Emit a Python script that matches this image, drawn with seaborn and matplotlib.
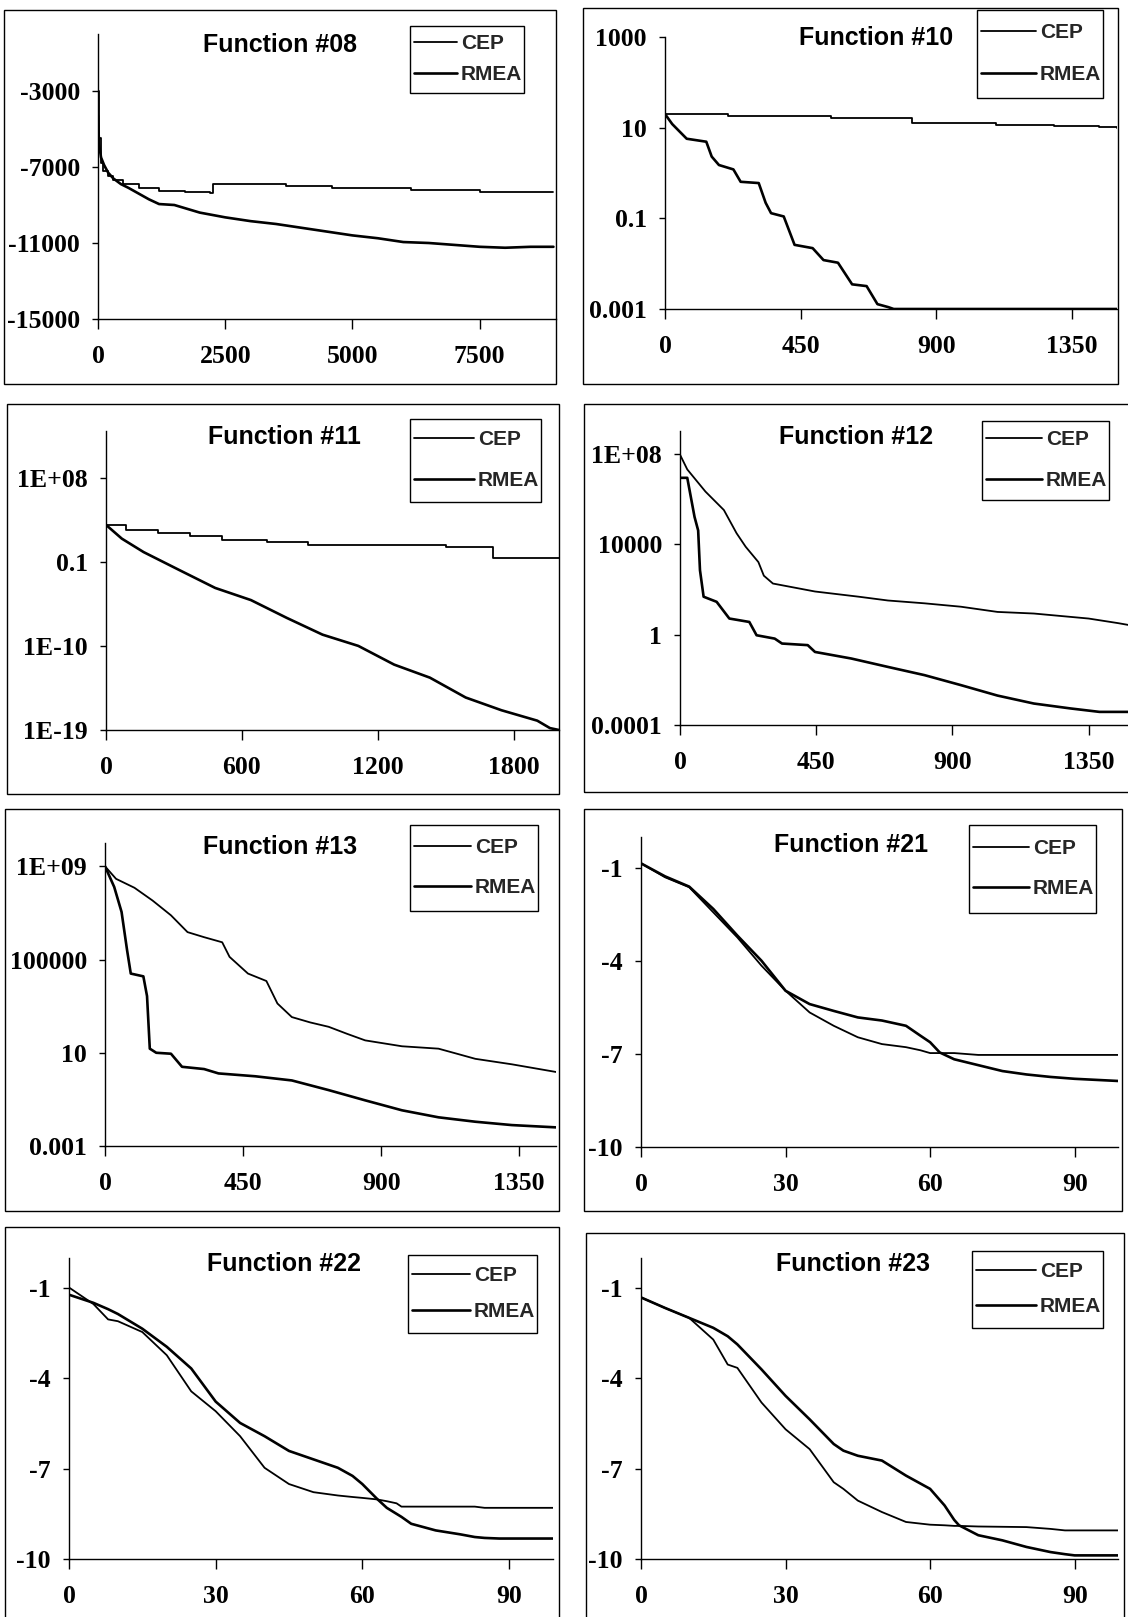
import numpy as np
import pandas as pd
import matplotlib
matplotlib.use("Agg")
import matplotlib.pyplot as plt
import seaborn as sns
from matplotlib.patches import Rectangle
from matplotlib.ticker import FixedLocator, NullLocator, FixedFormatter
from matplotlib.font_manager import FontProperties

# ---------------- data ----------------
# Function #08
f08_cep_x = [0, 20, 50, 100, 200, 300, 500, 800, 1200, 1700, 2200, 2250, 3650, 3700, 4550, 4600, 6100, 6150, 7450, 7500, 8950]
f08_cep_y = [-3000, -5500, -6800, -7200, -7500, -7700, -7900, -8100, -8250, -8300, -8350, -7900, -7900, -8000, -8000, -8100, -8100, -8200, -8200, -8300, -8300]
f08_rmea_x = [0, 20, 60, 120, 200, 300, 450, 600, 800, 1000, 1200, 1500, 2000, 2500, 3000, 3500, 4000, 4500, 5000, 5500, 6000, 6500, 7000, 7500, 8000, 8500, 8950]
f08_rmea_y = [-4300, -5800, -6500, -6900, -7300, -7600, -7900, -8100, -8400, -8700, -8950, -9000, -9400, -9650, -9850, -10000, -10200, -10400, -10600, -10750, -10950, -11000, -11100, -11200, -11250, -11200, -11200]

# Function #10
f10_cep_x = [0, 210, 550, 820, 1100, 1290, 1440, 1500]
f10_cep_y = [20, 18, 16.4, 13, 11.6, 11, 10.3, 10]
f10_rmea_x = [0, 24, 72, 137, 155, 179, 227, 251, 311, 334, 352, 394, 430, 490, 526, 574, 621, 669, 705, 741, 759, 1500]
f10_rmea_y = [20, 12, 5.7, 4.9, 2.3, 1.5, 1.2, 0.64, 0.6, 0.22, 0.13, 0.11, 0.026, 0.022, 0.012, 0.0105, 0.0035, 0.0032, 0.00128, 0.0011, 0.001, 0.001]

# Function #11
f11_cep_x = [0, 90, 230, 370, 510, 710, 890, 1500, 1710, 2000]
f11_cep_y = [9e2, 2.5e2, 1.3e2, 6e1, 2e1, 1.3e1, 7e0, 3.8e0, 2.8e-1, 2.8e-1]
f11_rmea_x = [0, 70, 166, 324, 482, 640, 798, 956, 1114, 1272, 1430, 1588, 1746, 1904, 1960, 2000]
f11_rmea_y = [9e2, 3e1, 1.1e0, 1.3e-2, 1.6e-4, 8e-6, 1e-7, 1.6e-9, 1e-10, 1e-12, 4e-14, 3e-16, 1.3e-17, 1e-18, 1.6e-19, 1e-19]

# Function #12
f12_cep_x = [0, 24, 84, 145, 187, 217, 259, 277, 307, 446, 591, 687, 808, 928, 1049, 1169, 1350, 1447, 1500]
f12_cep_y = [9e7, 2e7, 2.1e6, 3.2e5, 3e4, 7.6e3, 1.6e3, 4e2, 1.8e2, 8e1, 4.7e1, 3.2e1, 2.4e1, 1.7e1, 1e1, 8.5e0, 5.1e0, 3.2e0, 2.4e0]
f12_rmea_x = [0, 24, 48, 60, 66, 78, 121, 163, 229, 253, 313, 337, 422, 446, 566, 687, 808, 928, 1049, 1169, 1290, 1386, 1500]
f12_rmea_y = [8.5e6, 8.5e6, 1.6e5, 4e4, 7e2, 4.7e1, 2.8e1, 5.1e0, 3.6e0, 9.3e-1, 6.6e-1, 4e-1, 3.4e-1, 1.7e-1, 8.7e-2, 3.7e-2, 1.6e-2, 5.8e-3, 2e-3, 8.9e-4, 5.4e-4, 3.8e-4, 3.8e-4]

# Function #13
f13_cep_x = [0, 36, 96, 155, 215, 269, 323, 382, 406, 466, 526, 562, 609, 669, 729, 789, 848, 968, 1087, 1147, 1207, 1326, 1470]
f13_cep_y = [1e9, 2.9e8, 1.2e8, 3.4e7, 7.9e6, 1.5e6, 9.1e5, 5.5e5, 1.3e5, 2.5e4, 1.2e4, 1.3e3, 3.4e2, 2e2, 1.3e2, 6.5e1, 3.4e1, 1.9e1, 1.5e1, 9.1e0, 5.5e0, 3.2e0, 1.5e0]
f13_rmea_x = [0, 30, 54, 72, 84, 125, 137, 146, 167, 215, 251, 323, 370, 490, 609, 729, 848, 968, 1087, 1207, 1326, 1470]
f13_rmea_y = [1e9, 1.3e8, 1.1e7, 2.5e5, 2.5e4, 1.9e4, 2.7e3, 1.5e1, 1e1, 9.1e0, 2.5e0, 2e0, 1.3e0, 9.8e-1, 6.5e-1, 2.5e-1, 9.1e-2, 3.4e-2, 1.7e-2, 1.1e-2, 7.9e-3, 6.3e-3]

# Function #21
f21_x = [0, 5, 10, 15, 20, 25, 30, 35, 40, 45, 50, 55, 58, 60, 62, 65, 70, 75, 80, 85, 90, 99]
f21_cep_y = [-0.85, -1.3, -1.62, -2.43, -3.24, -4.15, -4.96, -5.66, -6.09, -6.46, -6.68, -6.78, -6.88, -6.97, -6.97, -6.97, -7.03, -7.03, -7.03, -7.03, -7.03, -7.03]
f21_rmea_y = [-0.85, -1.27, -1.6, -2.32, -3.18, -3.99, -4.96, -5.39, -5.61, -5.82, -5.92, -6.09, -6.41, -6.62, -6.95, -7.17, -7.36, -7.55, -7.66, -7.74, -7.8, -7.87]

# Function #22
f22_x = [0, 5, 8, 10, 15, 20, 25, 30, 35, 40, 45, 50, 55, 58, 60, 63, 65, 67, 68, 70, 75, 80, 83, 85, 88, 99]
f22_cep_y = [-0.98, -1.53, -2.04, -2.1, -2.46, -3.23, -4.43, -5.09, -5.92, -6.97, -7.51, -7.78, -7.89, -7.94, -7.97, -8.02, -8.08, -8.15, -8.26, -8.26, -8.26, -8.26, -8.26, -8.3, -8.3, -8.3]
f22_rmea_y = [-1.22, -1.49, -1.7, -1.86, -2.35, -2.95, -3.67, -4.77, -5.48, -5.92, -6.41, -6.69, -6.97, -7.24, -7.51, -8.0, -8.3, -8.5, -8.6, -8.83, -9.05, -9.18, -9.27, -9.3, -9.32, -9.32]

# Function #23
f23_x = [0, 5, 10, 15, 18, 20, 25, 30, 35, 40, 42, 45, 50, 55, 60, 63, 65, 66, 70, 75, 80, 85, 88, 90, 99]
f23_cep_y = [-1.31, -1.66, -1.99, -2.71, -3.54, -3.65, -4.8, -5.69, -6.35, -7.45, -7.67, -8.06, -8.44, -8.77, -8.86, -8.88, -8.9, -8.9, -8.92, -8.93, -8.94, -9.0, -9.05, -9.05, -9.05]
f23_rmea_y = [-1.31, -1.66, -1.99, -2.32, -2.6, -2.87, -3.7, -4.58, -5.36, -6.18, -6.4, -6.57, -6.73, -7.23, -7.67, -8.22, -8.7, -8.88, -9.21, -9.38, -9.6, -9.77, -9.84, -9.88, -9.88]

titles = ["Function #08", "Function #10", "Function #11", "Function #12",
          "Function #13", "Function #21", "Function #22", "Function #23"]
series_names = ["CEP", "RMEA"]

# ---------------- style ----------------
sns.set_theme(style="white")
plt.rcParams['font.family'] = ['Liberation Serif', 'DejaVu Serif']

W, H = 1128, 1617
fig = plt.figure(figsize=(W / 100, H / 100), dpi=100)

tick_font = FontProperties(family=['Liberation Serif', 'DejaVu Serif'], weight='bold', size=18.5)
title_font = FontProperties(family=['Liberation Sans', 'DejaVu Sans'], weight='bold', size=18)
LEG_PT = 15
legend_font = FontProperties(family=['Liberation Sans', 'DejaVu Sans'], weight='bold', size=LEG_PT)

# leg = (left, top, right, bottom) of the legend frame in px, gap between entry centres px
panels = [
    dict(title=titles[0], box=(4, 10, 556, 384), ax=(98, 34, 556, 319), xlim=(0, 9000), ylim=(-15000, 0), log=False,
         xticks=[0, 2500, 5000, 7500], yticks=[-3000, -7000, -11000, -15000],
         ylabels=["-3000", "-7000", "-11000", "-15000"], tpos=(280, 45), leg=(410, 26, 524, 93, 32),
         data=[(f08_cep_x, f08_cep_y, 'steps-post'), (f08_rmea_x, f08_rmea_y, 'default')]),
    dict(title=titles[1], box=(583, 8, 1118, 384), ax=(665, 37, 1117, 309), xlim=(0, 1500), ylim=(1e-3, 1e3), log=True,
         xticks=[0, 450, 900, 1350], yticks=[1e3, 1e1, 1e-1, 1e-3],
         ylabels=["1000", "10", "0.1", "0.001"], tpos=(876, 38), leg=(977, 10, 1103, 98, 42),
         data=[(f10_cep_x, f10_cep_y, 'steps-post'), (f10_rmea_x, f10_rmea_y, 'default')]),
    dict(title=titles[2], box=(7, 404, 559, 794), ax=(106, 431, 559, 730), xlim=(0, 2000), ylim=(1e-19, 1e13), log=True,
         xticks=[0, 600, 1200, 1800], yticks=[1e8, 1e-1, 1e-10, 1e-19],
         ylabels=["1E+08", "0.1", "1E-10", "1E-19"], tpos=(284, 437), leg=(410, 419, 541, 502, 42),
         data=[(f11_cep_x, f11_cep_y, 'steps-post'), (f11_rmea_x, f11_rmea_y, 'default')]),
    dict(title=titles[3], box=(584, 404, 1140, 792), ax=(680, 431, 1134, 725), xlim=(0, 1500), ylim=(1e-4, 1e9), log=True,
         xticks=[0, 450, 900, 1350], yticks=[1e8, 1e4, 1e0, 1e-4],
         ylabels=["1E+08", "10000", "1", "0.0001"], tpos=(856, 437), leg=(982, 421, 1109, 500, 41),
         data=[(f12_cep_x, f12_cep_y, 'default'), (f12_rmea_x, f12_rmea_y, 'default')]),
    dict(title=titles[4], box=(5, 809, 559, 1211), ax=(105, 843, 556, 1146), xlim=(0, 1470), ylim=(1e-3, 1e10), log=True,
         xticks=[0, 450, 900, 1350], yticks=[1e9, 1e5, 1e1, 1e-3],
         ylabels=["1E+09", "100000", "10", "0.001"], tpos=(280, 847), leg=(410, 825, 538, 911, 41),
         data=[(f13_cep_x, f13_cep_y, 'default'), (f13_rmea_x, f13_rmea_y, 'default')]),
    dict(title=titles[5], box=(584, 809, 1122, 1211), ax=(641, 837, 1118, 1147), xlim=(0, 99), ylim=(-10, 0), log=False,
         xticks=[0, 30, 60, 90], yticks=[-1, -4, -7, -10],
         ylabels=["-1", "-4", "-7", "-10"], tpos=(851, 845), leg=(969, 825, 1096, 913, 41),
         data=[(f21_x, f21_cep_y, 'default'), (f21_x, f21_rmea_y, 'default')]),
    dict(title=titles[6], box=(5, 1227, 559, 1660), ax=(69, 1258, 553, 1559), xlim=(0, 99), ylim=(-10, 0), log=False,
         xticks=[0, 30, 60, 90], yticks=[-1, -4, -7, -10],
         ylabels=["-1", "-4", "-7", "-10"], tpos=(284, 1264), leg=(408, 1255, 537, 1333, 37),
         data=[(f22_x, f22_cep_y, 'default'), (f22_x, f22_rmea_y, 'default')]),
    dict(title=titles[7], box=(586, 1233, 1124, 1660), ax=(641, 1258, 1118, 1559), xlim=(0, 99), ylim=(-10, 0), log=False,
         xticks=[0, 30, 60, 90], yticks=[-1, -4, -7, -10],
         ylabels=["-1", "-4", "-7", "-10"], tpos=(853, 1264), leg=(972, 1251, 1103, 1328, 35),
         data=[(f23_x, f23_cep_y, 'default'), (f23_x, f23_rmea_y, 'default')]),
]

line_widths = {"CEP": 1.3, "RMEA": 1.9}
fs_px = LEG_PT * 100 / 72
text_h = 0.93 * fs_px
TEXT_W = 60  # approx. width of "RMEA" in px


def add_rect(l, t, r, b):
    fig.add_artist(Rectangle((l / W, 1 - b / H), (r - l) / W, (b - t) / H,
                             transform=fig.transFigure, fill=False, lw=1.0, ec='black', zorder=5))


for p in panels:
    add_rect(*p['box'])
    l, t, r, b = p['ax']
    ax = fig.add_axes([l / W, 1 - b / H, (r - l) / W, (b - t) / H])
    ax.set_facecolor('none')
    if p['log']:
        ax.set_yscale('log')
    for name, (xs, ys, ds) in zip(series_names, p['data']):
        df = pd.DataFrame({"x": xs, "y": ys})
        sns.lineplot(data=df, x="x", y="y", ax=ax, color='black', lw=line_widths[name],
                     label=name, drawstyle=ds, estimator=None, sort=False)
    ax.set_xlim(*p['xlim'])
    ax.set_ylim(*p['ylim'])
    ax.set_xlabel("")
    ax.set_ylabel("")
    ax.xaxis.set_major_locator(FixedLocator(p['xticks']))
    ax.xaxis.set_major_formatter(FixedFormatter([str(v) for v in p['xticks']]))
    ax.yaxis.set_major_locator(FixedLocator(p['yticks']))
    ax.yaxis.set_major_formatter(FixedFormatter(p['ylabels']))
    ax.yaxis.set_minor_locator(NullLocator())
    ax.xaxis.set_minor_locator(NullLocator())
    for s in ['top', 'right']:
        ax.spines[s].set_visible(False)
    for s in ['left', 'bottom']:
        ax.spines[s].set_color('black')
        ax.spines[s].set_linewidth(1.0)
    ax.tick_params(axis='x', direction='out', length=7, width=1.0, pad=12, colors='black', bottom=True)
    ax.tick_params(axis='y', direction='out', length=4, width=1.0, pad=9, colors='black', left=True)
    for lab in ax.get_xticklabels() + ax.get_yticklabels():
        lab.set_fontproperties(tick_font)
    ax.grid(False)

    fig.text(p['tpos'][0] / W, 1 - p['tpos'][1] / H, p['title'], fontproperties=title_font,
             ha='center', va='center', color='black')

    ll, lt, lr, lb, gap = p['leg']
    # legend frame (outline only, so the legend entries stay visible)
    add_rect(ll, lt, lr, lb)
    centre = (lt + lb) / 2
    first_centre = centre - gap / 2
    top_of_entries = first_centre - text_h / 2
    ls = max((gap - text_h) / fs_px, 0.1)
    hl_px = (lr - ll) - 4 - 4 - 3 - TEXT_W
    leg = ax.legend(loc='upper left', bbox_to_anchor=((ll + 4) / W, 1 - top_of_entries / H),
                    bbox_transform=fig.transFigure, frameon=False,
                    prop=legend_font, handlelength=hl_px / fs_px, handletextpad=4 / fs_px, borderpad=0,
                    labelspacing=ls, borderaxespad=0)

fig.savefig("out.png", dpi=100, facecolor='white')
